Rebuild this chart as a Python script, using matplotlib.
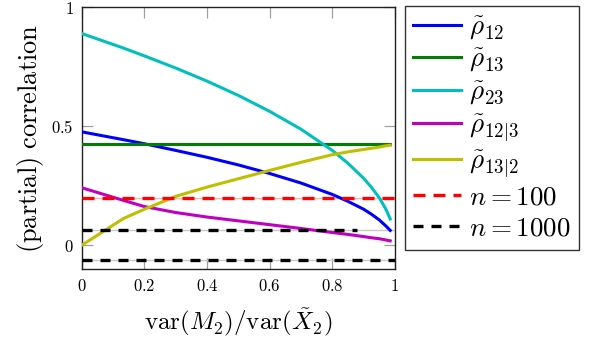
import matplotlib
matplotlib.use("Agg")
import matplotlib.pyplot as plt

plt.rcParams['mathtext.fontset'] = 'cm'

# x = var(M2)/var(X2~)
x = [0, 0.133, 0.2, 0.3, 0.4, 0.5, 0.6, 0.7, 0.8, 0.85, 0.9, 0.925, 0.95, 0.97, 0.985]

rho12 = [0.476, 0.443, 0.426, 0.398, 0.369, 0.337, 0.301, 0.261, 0.213, 0.184,
         0.151, 0.130, 0.106, 0.082, 0.062]
rho13 = [0.423] * len(x)
rho23 = [0.889, 0.828, 0.795, 0.744, 0.689, 0.629, 0.562, 0.487, 0.398, 0.344,
         0.281, 0.243, 0.199, 0.154, 0.110]
rho12_3 = [0.241, 0.188, 0.162, 0.137, 0.118, 0.102, 0.086, 0.070, 0.053, 0.045,
           0.036, 0.031, 0.027, 0.022, 0.018]
rho13_2 = [0.0, 0.112, 0.151, 0.205, 0.244, 0.279, 0.314, 0.348, 0.380, 0.392,
           0.402, 0.407, 0.412, 0.417, 0.420]

# significance thresholds
thr100 = 0.196
thr1000 = 0.062

fig = plt.figure(figsize=(6.02, 3.40), dpi=100)
ax = fig.add_axes([0.136, 0.209, 0.520, 0.770])

ax.plot(x, rho12, color='#0000ff', lw=2.2, label=r'$\tilde{\rho}_{12}$', zorder=3)
ax.plot(x, rho13, color='#008000', lw=2.2, label=r'$\tilde{\rho}_{13}$', zorder=3)
ax.plot(x, rho23, color='#00bfbf', lw=2.2, label=r'$\tilde{\rho}_{23}$', zorder=3)
ax.plot(x, rho12_3, color='#bf00bf', lw=2.2, label=r'$\tilde{\rho}_{12|3}$', zorder=3)
ax.plot(x, rho13_2, color='#bfbf00', lw=2.2, label=r'$\tilde{\rho}_{13|2}$', zorder=3)

# thin light lines under the dashed ones
ax.plot([0, 1], [thr100, thr100], color='#ffb4b4', lw=1.0, zorder=2)
ax.plot([0, 1], [thr1000, thr1000], color='#c8c8c8', lw=1.0, zorder=2)
ax.plot([0, 1], [-thr1000, -thr1000], color='#c8c8c8', lw=1.0, zorder=2)

ax.plot([0, 1], [thr100, thr100], color='#ff0000', lw=2.4, ls=(0, (3.6, 2.4)),
        label=r'$n=100$', zorder=4)
ax.plot([0, 0.88], [thr1000, thr1000], color='black', lw=2.4, ls=(0, (3.0, 2.4)),
        label=r'$n=1000$', zorder=4)
ax.plot([0, 1], [-thr1000, -thr1000], color='black', lw=2.4, ls=(0, (3.0, 2.4)), zorder=4)

ax.set_xlim(0, 1)
ax.set_ylim(-0.1, 1)
ax.set_xticks([0, 0.2, 0.4, 0.6, 0.8, 1])
ax.set_xticklabels(['$0$', '$0.2$', '$0.4$', '$0.6$', '$0.8$', '$1$'])
ax.set_yticks([0, 0.5, 1])
ax.set_yticklabels(['$0$', '$0.5$', '$1$'])
ax.tick_params(direction='in', length=8, width=0.9, color='#a0a0a0',
               top=True, right=True, labelsize=12, pad=6)
for sp in ax.spines.values():
    sp.set_linewidth(1.0)
    sp.set_color('#202020')

ax.set_xlabel(r'$\mathrm{var}(M_2)/\mathrm{var}(\tilde{X}_2)$', fontsize=18, labelpad=8)
ax.set_ylabel(r'$\mathrm{(partial)\ correlation}$', fontsize=19, labelpad=4)

leg = fig.legend(loc='upper left', bbox_to_anchor=(405 / 602, 1 - 6 / 340),
                 fontsize=19.5, frameon=True, fancybox=False, borderaxespad=0,
                 handlelength=1.75, handletextpad=0.3, labelspacing=0.2,
                 borderpad=0.3)
leg.get_frame().set_edgecolor('black')
leg.get_frame().set_linewidth(1.0)

fig.savefig('out.png', dpi=100)
